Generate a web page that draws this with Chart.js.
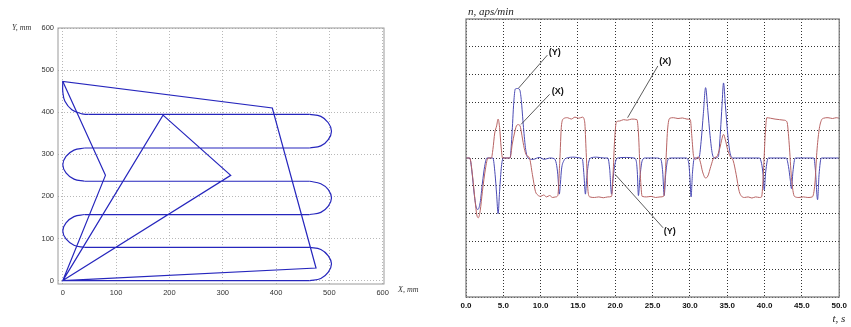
<!DOCTYPE html>
<html>
<head>
<meta charset="utf-8">
<title>Path and motor speed</title>
<script src="https://cdn.jsdelivr.net/npm/chart.js@4.4.1/dist/chart.umd.min.js"></script>
<style>
  html, body { margin: 0; padding: 0; background: #fff; }
  #wrap { position: relative; width: 851px; height: 327px; overflow: hidden; }
  #pathChart { position: absolute; left: 0; top: 0; }
  #speedChart { position: absolute; left: 425px; top: 0; }
</style>
</head>
<body>
<div id="wrap">
  <canvas id="pathChart" width="425" height="327"></canvas>
  <canvas id="speedChart" width="426" height="327"></canvas>
</div>
<script>
// ---- left chart: tool path, mm ----
const pathTicks = [0, 100, 200, 300, 400, 500, 600];

// straight runs (null = pen up)
const lineX = [0, 188, 315, 0, 80, 0, 393, 475, 0, null, 48, 463, null, 463, 41, null, 41, 463, null, 463, 41, null, 41, 463, null, 463, 0];
const lineY = [0, 393, 250, 0, 250, 473, 410, 30, 0, null, 395, 395, null, 315, 315, null, 236, 236, null, 157, 157, null, 79, 79, null, 0, 0];

// rounded turns of the zigzag
const turnX = [0, 0, 4, 17, 36, 48, null,
    463, 484, 498, 504, 498, 484, 463, null,
    41, 21, 6, 0, 6, 21, 41, null,
    463, 484, 498, 504, 498, 484, 463, null,
    41, 21, 6, 0, 6, 21, 41, null,
    463, 484, 498, 504, 498, 484, 463];
const turnY = [473, 449, 426, 406, 396, 395, null,
    395, 390, 375, 355, 335, 320, 315, null,
    315, 310, 295, 275, 256, 241, 236, null,
    236, 230, 216, 196, 177, 162, 157, null,
    157, 152, 137, 118, 99, 84, 79, null,
    79, 74, 59, 40, 20, 5, 0];

// ---- right chart: speed n vs time t ----
const timeTicks = [0, 5, 10, 15, 20, 25, 30, 35, 40, 45, 50];
const levelTicks = [-5, -4, -3, -2, -1, 0, 1, 2, 3, 4, 5];

const tX = [0, 0.5, 0.9, 1.2, 1.45, 1.65, 1.9, 2.2, 2.6, 2.95, 3.4, 3.6, 3.85, 4.1, 4.3, 4.5, 4.7, 4.9, 5.9, 6.2, 6.5, 6.75, 7.0, 7.25, 7.5, 7.8, 8.1, 8.5, 8.9, 9.3, 9.6, 10.0, 10.4, 10.8, 11.2, 11.6, 12.0, 12.3, 12.55, 12.8, 13.1, 13.6, 14.1, 14.6, 15.1, 15.6, 15.9, 16.1, 16.35, 16.6, 17.2, 17.8, 18.4, 19.0, 19.5, 19.7, 19.9, 20.15, 20.6, 21.1, 21.6, 22.2, 22.9, 23.1, 23.35, 23.6, 24.2, 24.8, 25.4, 26.0, 26.5, 26.75, 27.0, 27.3, 27.8, 28.4, 29.0, 29.6, 30.05, 30.25, 30.5, 30.8, 31.1, 31.4, 31.7, 32.1, 32.4, 32.8, 33.2, 33.6, 34.0, 34.3, 34.5, 34.75, 35.05, 35.4, 35.8, 36.2, 36.6, 36.9, 37.3, 37.8, 38.3, 38.8, 39.3, 39.6, 39.85, 40.1, 40.3, 40.8, 41.4, 42.0, 42.6, 43.0, 43.3, 43.6, 44.0, 44.6, 45.2, 45.8, 46.4, 46.75, 47.0, 47.3, 47.6, 47.9, 48.5, 49.1, 49.6, 50];
const nX = [0, 0, -0.7, -1.5, -2.05, -2.15, -1.9, -1.2, -0.4, 0, 0, 0.3, 0.9, 1.15, 1.4, 1.1, 0.4, 0, 0, 0.5, 0.9, 1.15, 1.2, 1.15, 0.8, 0.35, 0.1, 0, -0.6, -1.2, -1.33, -1.38, -1.33, -1.4, -1.35, -1.42, -1.4, -1.35, -0.2, 1.2, 1.42, 1.45, 1.4, 1.47, 1.43, 1.47, 1.3, 0.2, -1.2, -1.4, -1.42, -1.4, -1.43, -1.4, -1.38, -0.6, 0.6, 1.3, 1.33, 1.38, 1.36, 1.4, 1.38, 0.9, -0.6, -1.38, -1.4, -1.38, -1.42, -1.4, -1.37, -0.3, 1.0, 1.43, 1.45, 1.42, 1.44, 1.4, 1.38, 0.8, 0.05, -0.05, 0.05, -0.15, -0.5, -0.72, -0.65, -0.3, 0, 0.05, 0.35, 0.7, 0.85, 0.65, 0.3, 0.05, -0.1, -0.6, -1.2, -1.37, -1.42, -1.4, -1.44, -1.4, -1.42, -1.4, -0.5, 0.9, 1.45, 1.43, 1.4, 1.38, 1.36, 1.3, 0.5, -0.7, -1.38, -1.42, -1.4, -1.42, -1.4, -0.9, 0.2, 1.0, 1.35, 1.43, 1.45, 1.42, 1.45, 1.43];

const tY = [0, 0.5, 0.8, 1.1, 1.4, 1.6, 1.9, 2.2, 2.5, 2.8, 3.6, 3.9, 4.1, 4.3, 4.5, 4.75, 5.0, 5.9, 6.15, 6.4, 6.6, 6.9, 7.2, 7.4, 7.7, 8.0, 8.3, 9.0, 9.8, 10.5, 11.2, 11.8, 12.1, 12.3, 12.5, 12.65, 12.8, 13.1, 13.5, 14.5, 15.3, 15.6, 15.8, 16.0, 16.15, 16.4, 16.7, 17.5, 18.5, 19.0, 19.25, 19.5, 19.65, 19.9, 20.3, 21.5, 22.5, 22.8, 22.95, 23.1, 23.3, 23.6, 24.0, 25.5, 26.1, 26.35, 26.55, 26.75, 27.0, 27.4, 29.5, 29.85, 30.0, 30.15, 30.35, 30.6, 31.2, 31.5, 31.8, 32.1, 32.4, 32.7, 33.0, 33.3, 33.8, 34.1, 34.3, 34.5, 34.75, 35.05, 35.4, 35.8, 39.3, 39.6, 39.8, 39.95, 40.15, 40.5, 42.9, 43.2, 43.45, 43.6, 43.8, 44.1, 46.6, 46.8, 47.1, 47.3, 47.6, 50];
const nY = [0, 0, -0.5, -1.3, -1.8, -1.85, -1.6, -0.9, -0.3, 0, 0, -0.6, -1.3, -2.0, -1.2, -0.3, 0, 0, 0.8, 2.0, 2.48, 2.5, 2.45, 2.1, 1.1, 0.3, 0, -0.05, 0.02, -0.05, 0, -0.02, -0.2, -0.6, -1.3, -0.9, -0.4, -0.1, 0, 0.03, 0, -0.05, -0.6, -1.3, -0.8, -0.2, 0, 0.03, 0, 0, -0.4, -1.3, -0.9, -0.3, 0, 0.02, 0, -0.1, -0.5, -1.35, -0.7, -0.1, 0, 0, -0.05, -0.5, -1.35, -0.6, -0.1, 0, 0, -0.2, -0.7, -1.4, -0.5, 0, 0, 0.6, 1.6, 2.53, 1.7, 0.8, 0.15, 0, 0.05, 1.0, 1.9, 2.7, 1.9, 0.9, 0.15, 0, 0, -0.2, -0.6, -1.15, -0.5, 0, 0, -0.3, -0.8, -1.1, -0.5, 0, 0, -0.4, -1.5, -0.6, 0, 0];

// callouts: label anchor and leader line, in chart units (t, n)
const noteText = ['(Y)', '(X)', '(X)', '(Y)'];
const noteT = [11.9, 12.3, 26.7, 27.3];
const noteN = [3.8, 2.38, 3.47, -2.66];
const leadFromT = [10.9, 11.2, 25.7, 26.4];
const leadFromN = [3.7, 2.29, 3.31, -2.51];
const leadToT = [7.03, 7.38, 21.65, 19.98];
const leadToN = [2.51, 1.21, 1.45, -0.59];

function toPoints(xs, ys) {
    return xs.map((x, i) => (x === null ? { x: null, y: null } : { x: x, y: ys[i] }));
}

function boxAround(color, width) {
    return {
        id: 'boxAround',
        afterDatasetsDraw(chart) {
            const a = chart.chartArea;
            const ctx = chart.ctx;
            ctx.save();
            ctx.strokeStyle = color;
            ctx.lineWidth = width;
            ctx.strokeRect(a.left, a.top, a.right - a.left, a.bottom - a.top);
            ctx.restore();
        }
    };
}

// left chart
const pathLabels = {
    id: 'pathLabels',
    afterDraw(chart) {
        const a = chart.chartArea;
        const ctx = chart.ctx;
        ctx.save();
        ctx.fillStyle = '#333';
        ctx.font = 'italic 8px "Liberation Serif", serif';
        ctx.textBaseline = 'middle';
        ctx.textAlign = 'left';
        ctx.fillText('Y, mm', 12, a.top);
        ctx.fillText('X, mm', a.right + 14, a.bottom + 6);
        ctx.restore();
    }
};

new Chart(document.getElementById('pathChart'), {
    type: 'scatter',
    data: {
        datasets: [
            {
                data: toPoints(lineX, lineY),
                showLine: true,
                borderColor: '#2626bd',
                borderWidth: 1.2,
                pointRadius: 0,
                tension: 0,
                spanGaps: false
            },
            {
                data: toPoints(turnX, turnY),
                showLine: true,
                borderColor: '#2626bd',
                borderWidth: 1.2,
                pointRadius: 0,
                tension: 0.4,
                spanGaps: false
            }
        ]
    },
    options: {
        responsive: false,
        animation: false,
        events: [],
        layout: { padding: { left: 0, right: 41, top: 28, bottom: 23 } },
        plugins: { legend: { display: false }, tooltip: { enabled: false } },
        scales: {
            x: {
                type: 'linear',
                min: -9,
                max: 602.5,
                afterBuildTicks: scale => { scale.ticks = pathTicks.map(v => ({ value: v })); },
                afterFit: scale => { scale.height = 20; },
                grid: { color: '#b8b8b8', drawTicks: false },
                border: { display: false, dash: [1, 2] },
                ticks: { padding: 4, color: '#333', maxRotation: 0, font: { family: 'Liberation Sans, Arial', size: 7.5 } }
            },
            y: {
                type: 'linear',
                min: -8,
                max: 600,
                afterBuildTicks: scale => { scale.ticks = pathTicks.map(v => ({ value: v })); },
                afterFit: scale => { scale.width = 58; },
                grid: { color: '#b8b8b8', drawTicks: false },
                border: { display: false, dash: [1, 2] },
                ticks: { padding: 4, color: '#333', font: { family: 'Liberation Sans, Arial', size: 7.5 } }
            }
        }
    },
    plugins: [boxAround('#9a9a9a', 1), pathLabels]
});

// right chart
const speedLabels = {
    id: 'speedLabels',
    afterDraw(chart) {
        const a = chart.chartArea;
        const xs = chart.scales.x;
        const ys = chart.scales.y;
        const ctx = chart.ctx;
        ctx.save();
        ctx.fillStyle = '#222';
        ctx.font = 'italic 11px "Liberation Serif", serif';
        ctx.textBaseline = 'middle';
        ctx.textAlign = 'left';
        ctx.fillText('n, aps/min', a.left + 2, a.top - 7);
        ctx.textAlign = 'right';
        ctx.fillText('t, s', a.right + 6, a.bottom + 22);

        ctx.strokeStyle = '#333';
        ctx.lineWidth = 0.8;
        for (let i = 0; i < noteText.length; i++) {
            ctx.beginPath();
            ctx.moveTo(xs.getPixelForValue(leadFromT[i]), ys.getPixelForValue(leadFromN[i]));
            ctx.lineTo(xs.getPixelForValue(leadToT[i]), ys.getPixelForValue(leadToN[i]));
            ctx.stroke();
        }
        ctx.fillStyle = '#111';
        ctx.font = 'bold 9px "Liberation Sans", Arial, sans-serif';
        ctx.textAlign = 'center';
        for (let i = 0; i < noteText.length; i++) {
            ctx.fillText(noteText[i], xs.getPixelForValue(noteT[i]), ys.getPixelForValue(noteN[i]));
        }
        ctx.restore();
    }
};

new Chart(document.getElementById('speedChart'), {
    type: 'line',
    data: {
        datasets: [
            {
                label: 'X',
                data: toPoints(tX, nX),
                borderColor: '#b86464',
                borderWidth: 1,
                pointRadius: 0,
                cubicInterpolationMode: 'monotone'
            },
            {
                label: 'Y',
                data: toPoints(tY, nY),
                borderColor: '#4a4ab4',
                borderWidth: 1,
                pointRadius: 0,
                cubicInterpolationMode: 'monotone'
            }
        ]
    },
    options: {
        responsive: false,
        animation: false,
        events: [],
        layout: { padding: { left: 41, right: 8, top: 19, bottom: 16 } },
        plugins: { legend: { display: false }, tooltip: { enabled: false } },
        scales: {
            x: {
                type: 'linear',
                min: 0,
                max: 50,
                afterBuildTicks: scale => { scale.ticks = timeTicks.map(v => ({ value: v })); },
                afterFit: scale => { scale.height = 14; },
                grid: { color: '#333', drawTicks: false },
                border: { display: false, dash: [1, 2] },
                ticks: {
                    padding: 4,
                    color: '#111',
                    maxRotation: 0,
                    font: { family: 'Liberation Sans, Arial', size: 8, weight: 'bold' },
                    callback: v => v.toFixed(1)
                }
            },
            y: {
                type: 'linear',
                min: -5,
                max: 5,
                afterBuildTicks: scale => { scale.ticks = levelTicks.map(v => ({ value: v })); },
                afterFit: scale => { scale.width = 0; },
                grid: { color: '#333', drawTicks: false },
                border: { display: false, dash: [1, 2] },
                ticks: { display: false }
            }
        }
    },
    plugins: [boxAround('#808080', 1.3), speedLabels]
});
</script>
</body>
</html>
